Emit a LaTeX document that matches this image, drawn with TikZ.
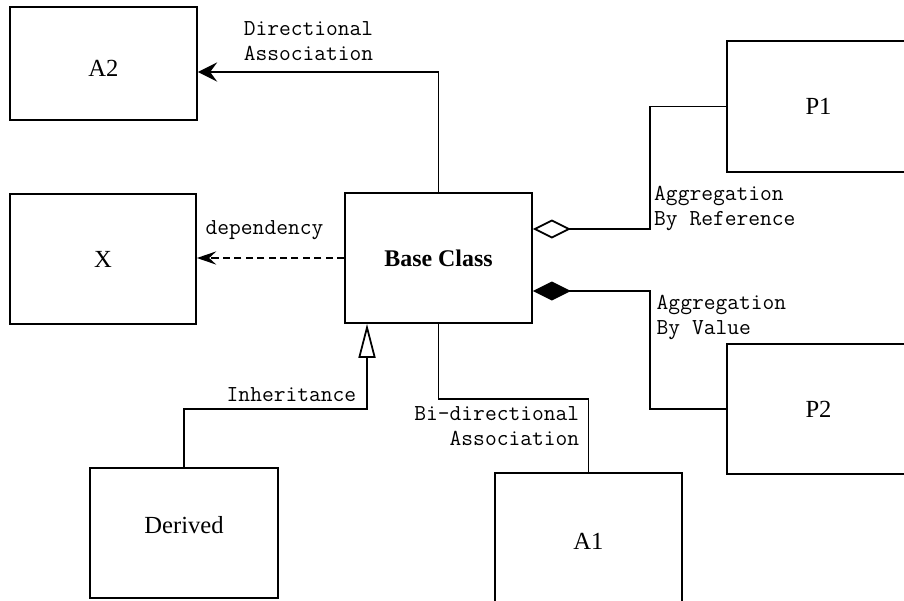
\documentclass[tikz,border=0pt]{standalone}
\usepackage{fontspec}
\setmainfont{Liberation Serif}
\usetikzlibrary{arrows.meta,positioning,calc}
\tikzset{
    % Class box - plain rectangle
    classbox/.style={
        rectangle,
        minimum width=3.74cm,
        minimum height=2.6cm,
        text centered,
        draw=black,
        fill=white,
        line width=1pt,
        font=\fontsize{14}{16}\selectfont
    },
    % Connector label - typewriter
    linklabel/.style={
        font=\ttfamily\fontsize{13}{14.4}\selectfont,
        inner sep=2pt
    },
    % Plain connector
    link/.style={
        line width=1pt,
        draw=black
    },
    % Directional arrow
    arrow/.style={
        link,
        -{Stealth[length=11pt,width=11pt,inset=4pt]}
    },
    % Dashed arrow for dependency
    dashedarrow/.style={
        link,
        dash pattern=on 4pt off 2.5pt,
        -{Stealth[length=11pt,width=7.5pt,inset=4pt]}
    },
    % Aggregation by reference - hollow diamond
    refagg/.style={
        link,
        {Diamond[open,length=0.76cm,width=0.38cm]}-
    },
    % Aggregation by value - filled diamond
    valagg/.style={
        link,
        {Diamond[length=0.76cm,width=0.38cm]}-
    },
    % Inheritance - hollow triangle
    inherit/.style={
        link,
        -{Triangle[open,length=0.68cm,width=0.34cm]}
    }
}

\begin{document}
\begin{tikzpicture}[x=0.02cm, y=-0.02cm]

    \useasboundingbox (0,0) rectangle (904,600);

    % ========== CLASSES ==========
    \node[classbox, minimum height=2.26cm] (atwo) at (103.5,63.5) {\raisebox{-0.5cm}{A2}};
    \node[classbox, minimum width=3.72cm] (xclass) at (103,259) {\raisebox{-0.24cm}{X}};
    \node[classbox, font=\fontsize{13.6}{16}\selectfont\bfseries] (base) at (438.5,258) {Base Class};
    \node[classbox, minimum width=3.66cm, minimum height=2.62cm] (pone) at (818.5,106.5) {P1};
    \node[classbox, minimum width=3.66cm] (ptwo) at (818.5,409) {P2};
    \node[classbox, minimum width=3.76cm] (derived) at (184,533) {\raisebox{0.32cm}{Derived}};
    \node[classbox, minimum height=2.74cm] (aone) at (588.5,541.5) {A1};

    % ========== CONNECTIONS ==========

    % Directional association
    \draw[arrow] (base.north) |- node[linklabel, pos=0.77, above=4pt, align=left] {Directional\\Association} ([yshift=-0.17cm]atwo.east);

    % Dependency
    \draw[dashedarrow] (base.west) -- node[linklabel, above=8pt, xshift=-0.12cm] {dependency} (xclass.east |- base.west);

    % Aggregations
    \draw[refagg] ([yshift=0.58cm]base.east) -- ++(2.34cm,0) node[linklabel, anchor=south west, yshift=-0.12cm, align=left] {Aggregation\\By Reference} |- (pone.west);
    \draw[valagg] ([yshift=-0.66cm]base.east) -- ++(2.34cm,0) node[linklabel, anchor=north west, xshift=0.05cm, align=left] {Aggregation\\By Value} |- (ptwo.west);

    % Inheritance
    \draw[inherit] (derived.north) -- ++(0,1.16cm) -| node[linklabel, pos=0.5, anchor=south east, xshift=-0.13cm, yshift=0.07cm] {Inheritance} ([xshift=-1.43cm]base.south);

    % Bi-directional association
    \draw[link] (base.south) -- ++(0,-1.5cm) -| node[linklabel, pos=0.5, anchor=north east, xshift=-0.1cm, yshift=-0.06cm, align=right] {Bi-directional\\Association} (aone.north);

\end{tikzpicture}
\end{document}
